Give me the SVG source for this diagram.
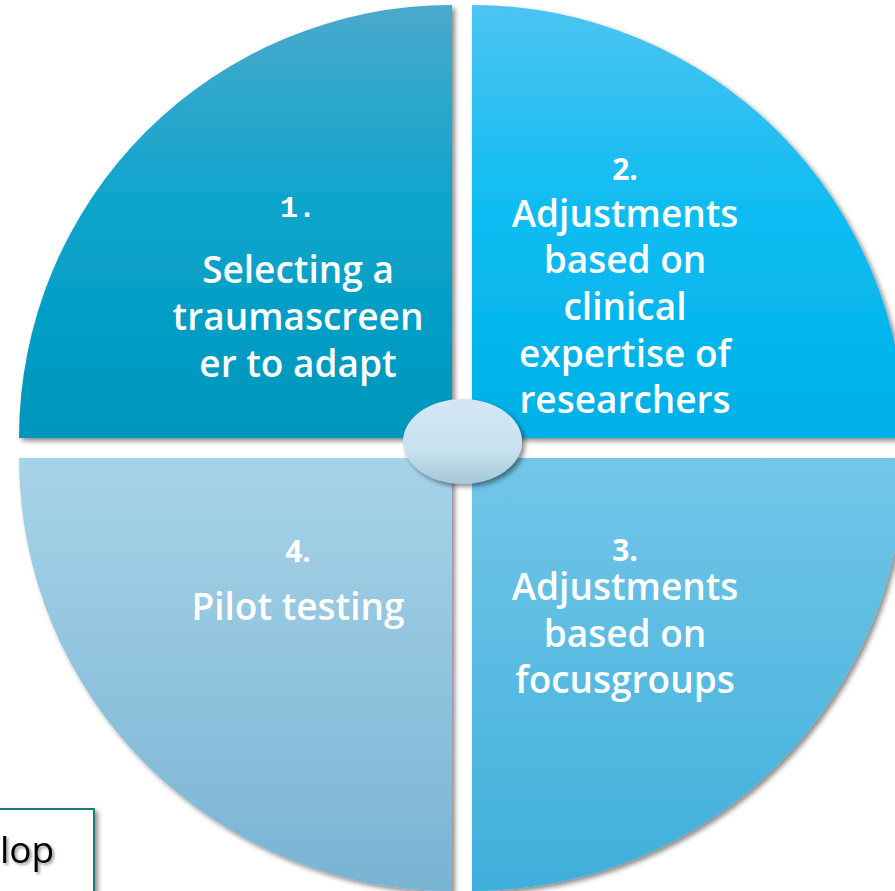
<svg xmlns="http://www.w3.org/2000/svg" width="895" height="891" viewBox="0 0 895 891">
<defs>
<style>
.lbl{font-family:"Open Sans","Liberation Sans",sans-serif;font-weight:600;font-size:37px;fill:#fff;text-anchor:middle}
.num{font-family:"Open Sans","Liberation Sans",sans-serif;font-weight:700;font-size:30px;fill:#fff;text-anchor:middle}
.mono{font-family:"Liberation Mono",monospace;font-weight:700;font-size:30px;fill:#fff;text-anchor:middle}
</style>
<linearGradient id="g1" x1="0" y1="0" x2="0" y2="1"><stop offset="0" stop-color="#4aa9cc"/><stop offset="0.5" stop-color="#09a4cc"/><stop offset="1" stop-color="#0096bc"/></linearGradient>
<linearGradient id="g2" x1="0" y1="0" x2="0" y2="1"><stop offset="0" stop-color="#4cc4f2"/><stop offset="0.5" stop-color="#0bbcf2"/><stop offset="1" stop-color="#00b0e6"/></linearGradient>
<linearGradient id="g3" x1="0" y1="0" x2="0" y2="1"><stop offset="0" stop-color="#73c6e8"/><stop offset="1" stop-color="#3fafdb"/></linearGradient>
<linearGradient id="g4" x1="0" y1="0" x2="0" y2="1"><stop offset="0" stop-color="#a7d3e8"/><stop offset="1" stop-color="#79b4d3"/></linearGradient>
<linearGradient id="ge" x1="0" y1="0" x2="0" y2="1"><stop offset="0" stop-color="#d4e8f4"/><stop offset="0.6" stop-color="#c8e0ee"/><stop offset="1" stop-color="#a6c8d8"/></linearGradient>
<filter id="sh" x="-10%" y="-10%" width="130%" height="130%"><feDropShadow dx="3" dy="3" stdDeviation="2.5" flood-color="#000" flood-opacity="0.45"/></filter>
<filter id="tsh" x="-10%" y="-10%" width="130%" height="130%"><feDropShadow dx="2" dy="2" stdDeviation="1.5" flood-color="#000" flood-opacity="0.4"/></filter>
</defs>
<rect width="895" height="891" fill="#fff"/>
<g id="connectors"/>
<g id="q1">
<path d="M452,438 L19,438 A433,433 0 0 1 452,5 Z" fill="url(#g1)" filter="url(#sh)"/>
<text class="mono" x="298" y="217">1.</text>
<text class="lbl" x="298" y="283">Selecting a</text>
<text class="lbl" x="298" y="330">traumascreen</text>
<text class="lbl" x="298" y="377">er to adapt</text>
</g>
<g id="q2">
<path d="M472,438 L472,5 A433,433 0 0 1 905,438 Z" fill="url(#g2)" filter="url(#sh)"/>
<text class="num" x="625" y="180">2.</text>
<text class="lbl" x="625" y="227">Adjustments</text>
<text class="lbl" x="625" y="273">based on</text>
<text class="lbl" x="625" y="320">clinical</text>
<text class="lbl" x="625" y="367">expertise of</text>
<text class="lbl" x="625" y="413">researchers</text>
</g>
<g id="q3">
<path d="M472,458 L905,458 A433,433 0 0 1 472,891 Z" fill="url(#g3)" filter="url(#sh)"/>
<text class="num" x="625" y="561">3.</text>
<text class="lbl" x="625" y="600">Adjustments</text>
<text class="lbl" x="625" y="647">based on</text>
<text class="lbl" x="625" y="693">focusgroups</text>
</g>
<g id="q4">
<path d="M452,458 L452,891 A433,433 0 0 1 19,458 Z" fill="url(#g4)" filter="url(#sh)"/>
<text class="num" x="298" y="562">4.</text>
<text class="lbl" x="298" y="620">Pilot testing</text>
</g>
<g id="center">
<ellipse cx="462.5" cy="441.5" rx="59.5" ry="42.5" fill="url(#ge)" filter="url(#sh)"/>
</g>
<g id="box">
<rect x="-10" y="809" width="104" height="100" fill="#fff" stroke="#1b7873" stroke-width="2" filter="url(#sh)"/>
<text x="0" y="863" font-family="Open Sans,Liberation Sans,sans-serif" font-size="37" fill="#000" filter="url(#tsh)">lop</text>
</g>
</svg>
